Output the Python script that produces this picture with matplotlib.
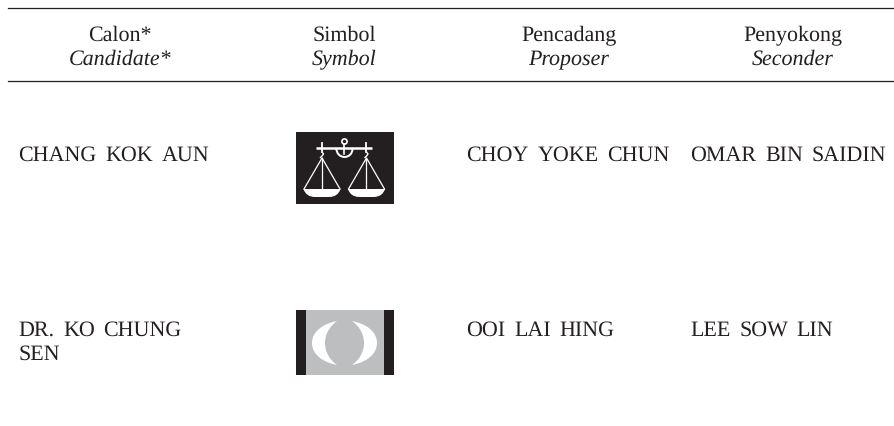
from matplotlib import pyplot as plt
from matplotlib.patches import Rectangle, PathPatch, Circle, Wedge
from matplotlib.path import Path

# table content
headers_ms = ["Calon*", "Simbol", "Pencadang", "Penyokong"]
headers_en = ["Candidate*", "Symbol", "Proposer", "Seconder"]
candidates = [["CHANG KOK AUN"], ["DR. KO CHUNG", "SEN"]]
proposers = ["CHOY YOKE CHUN", "OOI LAI HING"]
seconders = ["OMAR BIN SAIDIN", "LEE SOW LIN"]

header_x = [120, 344.5, 569, 793]
row_y = [161, 336]
plt.rcParams["font.family"] = "Liberation Serif"
plt.rcParams["text.hinting"] = "none"
plt.rcParams["text.hinting_factor"] = 1
ink = "#231f20"
grey = "#bcbec0"

fig = plt.figure(figsize=(8.95, 4.26), dpi=100)
ax = fig.add_axes([0, 0, 1, 1])
ax.set_xlim(0, 895)
ax.set_ylim(426, 0)
ax.axis("off")
renderer = fig.canvas.get_renderer()


def spaced(x, y, s, gap=8.5):
    # the typeset body text has wide word gaps, so place word by word
    for word in s.split(" "):
        t = ax.text(x, y, word, va="baseline", fontsize=15.5, color=ink)
        x += t.get_window_extent(renderer).width + gap


# rules
for y in [8, 80.5]:
    ax.plot([8, 895], [y, y], color=ink, lw=0.9)

# header rows
for x, ms, en in zip(header_x, headers_ms, headers_en):
    ax.text(x, 41, ms, ha="center", va="baseline", fontsize=16, color=ink)
    ax.text(x, 65, en, ha="center", va="baseline", fontsize=16, style="italic", color=ink)

# body rows
for y, cand, prop, sec in zip(row_y, candidates, proposers, seconders):
    spaced(18.5, y, cand[0])
    if len(cand) > 1:
        spaced(18.5, y + 24, cand[1])
    spaced(466.5, y, prop)
    spaced(690.5, y, sec)

# scales symbol
ax.add_patch(Rectangle((296, 132), 98, 72, color=ink, lw=0))
ax.plot([316, 372], [147.7, 147.7], color="white", lw=1.8, solid_capstyle="butt")
ax.add_patch(Circle((344.5, 141.5), 2.6, fill=False, ec="white", lw=1.2))
ax.plot([344.5, 344.5], [144, 154], color="white", lw=1.2)
ax.add_patch(Wedge((344.5, 149), 9, 0, 180, width=2, color="white", lw=0))
for cx in [322, 366.5]:
    ax.plot([cx, cx], [143, 152], color="white", lw=1.3)
    ax.plot([cx, cx + 1.5, cx, cx - 1.5], [152, 154, 156, 157.5], color="white", lw=1)
    ax.plot([cx - 18, cx, cx + 18], [189, 158, 189], color="white", lw=0.9)
    ax.plot([cx, cx], [158, 190], color="white", lw=0.9)
    pan = Path(
        [(cx - 18.5, 189), (cx + 18.5, 189), (cx + 16, 197), (cx + 7, 197),
         (cx - 7, 197), (cx - 16, 197), (cx - 18.5, 189)],
        [Path.MOVETO, Path.LINETO, Path.CURVE3, Path.LINETO, Path.LINETO, Path.CURVE3, Path.CURVE3],
    )
    ax.add_patch(PathPatch(pan, fc="white", ec="none"))

# crescent symbol
ax.add_patch(Rectangle((296, 310), 98, 65, color=ink, lw=0))
ax.add_patch(Rectangle((306, 310), 78, 65, color=grey, lw=0))
for tip, outer, inner in [(337, 312, 325), (352, 377, 364)]:
    dx = tip - outer
    crescent = Path(
        [(tip, 321), (outer + dx * 0.4, 324), (outer, 332), (outer, 343),
         (outer, 354), (outer + dx * 0.4, 362), (tip, 365),
         (inner + (tip - inner) * 0.4, 360), (inner, 352), (inner, 343),
         (inner, 334), (inner + (tip - inner) * 0.4, 326), (tip, 321)],
        [Path.MOVETO] + [Path.CURVE4] * 12,
    )
    ax.add_patch(PathPatch(crescent, fc="white", ec="none"))

fig.savefig("out.png", dpi=100)
